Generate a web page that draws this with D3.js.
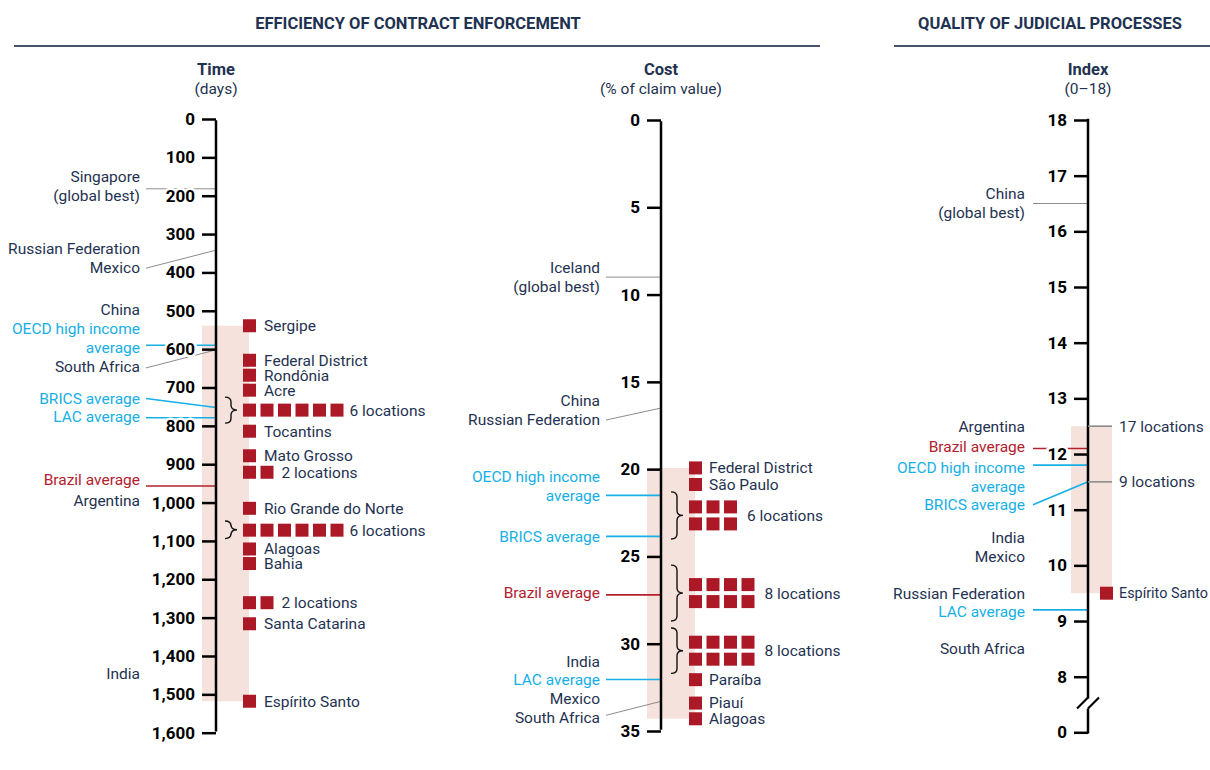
<!DOCTYPE html>
<html lang="en">
<head>
<meta charset="UTF-8">
<title>Enforcing contracts - Brazil</title>
<script src="https://d3js.org/d3.v7.min.js"></script>
<style>
  body { margin: 0; background: #fff; }
  svg text { font-family: Roboto, "Liberation Sans", sans-serif; }
</style>
</head>
<body>
<svg id="chart" width="1210" height="770"></svg>
<script>
// ---- data ----
// time (days)
var timeTicks = [0, 100, 200, 300, 400, 500, 600, 700, 800, 900, 1000, 1100, 1200, 1300, 1400, 1500, 1600];
var timeLocNames = ["Sergipe", "Federal District", "Rondônia", "Acre", "6 locations", "Tocantins", "Mato Grosso",
  "2 locations", "Rio Grande do Norte", "6 locations", "Alagoas", "Bahia", "2 locations", "Santa Catarina", "Espírito Santo"];
var timeLocValues = [539, 629, 668, 707, 759, 814, 878, 921, 1015, 1072, 1121, 1159, 1261, 1316, 1518];
var timeLocCounts = [1, 1, 1, 1, 6, 1, 1, 2, 1, 6, 1, 1, 2, 1, 1];
var timeGroupLow  = [null, null, null, null, 725, null, null, null, null, 1048, null, null, null, null, null];
var timeGroupHigh = [null, null, null, null, 793, null, null, null, null, 1094, null, null, null, null, null];
var timeBenchNames = [["Singapore", "(global best)"], ["Russian Federation", "Mexico"], ["China"],
  ["OECD high income", "average"], ["South Africa"], ["BRICS average"], ["LAC average"], ["Brazil average"], ["Argentina"], ["India"]];
var timeBenchValues = [182, 342, 496, 590, 602, 752, 779, 957, 995, 1445];
var timeBenchKinds = ["country", "country", "country", "avg", "country", "avg", "avg", "brazil", "country", "country"];

// cost (% of claim value)
var costTicks = [0, 5, 10, 15, 20, 25, 30, 35];
var costLocNames = ["Federal District", "São Paulo", "6 locations", "8 locations", "8 locations", "Paraíba", "Piauí", "Alagoas"];
var costLocValues = [19.93, 20.88, 22.65, 27.1, 30.4, 32.06, 33.4, 34.3];
var costLocCounts = [1, 1, 6, 8, 8, 1, 1, 1];
var costGroupLow  = [null, null, 21.3, 25.5, 29.1, null, null, null];
var costGroupHigh = [null, null, 24.0, 28.7, 31.7, null, null, null];
var costBenchNames = [["Iceland", "(global best)"], ["China", "Russian Federation"], ["OECD high income", "average"],
  ["BRICS average"], ["Brazil average"], ["India"], ["LAC average"], ["Mexico", "South Africa"]];
var costBenchValues = [9.0, 16.5, 21.5, 23.85, 27.2, 31.0, 32.05, 33.3];
var costBenchKinds = ["country", "country", "avg", "avg", "brazil", "country", "avg", "country"];

// quality of judicial processes index (0-18)
var indexTicks = [0, 8, 9, 10, 11, 12, 13, 14, 15, 16, 17, 18];
var indexLocNames = ["17 locations", "9 locations", "Espírito Santo"];
var indexLocValues = [12.5, 11.5, 9.5];
var indexLocCounts = [17, 9, 1];
var indexBenchNames = [["China", "(global best)"], ["Argentina"], ["Brazil average"], ["OECD high income", "average"],
  ["BRICS average"], ["India"], ["Mexico"], ["Russian Federation"], ["LAC average"], ["South Africa"]];
var indexBenchValues = [16.5, 12.5, 12.1, 11.8, 11.5, 10.5, 10.15, 9.5, 9.2, 8.5];
var indexBenchKinds = ["country", "country", "brazil", "avg", "avg", "country", "country", "country", "avg", "country"];

// ---- styles ----
var navy = "#1f3251", blue = "#17afe6", red = "#b3202e", squareRed = "#ab1926", bandFill = "#f6e2dc", grey = "#8c8c8c";
var kindColor = { country: navy, avg: blue, brazil: red };
var lineColor = { country: grey, avg: blue, brazil: red };
var labelSize = 15.5;

var svg = d3.select("#chart");

// section titles
function section(title, cx, x0, x1) {
  svg.append("text").attr("x", cx).attr("y", 29).attr("text-anchor", "middle")
    .style("font-size", "16.5px").style("font-weight", "bold").attr("fill", navy).text(title);
  svg.append("line").attr("x1", x0).attr("x2", x1).attr("y1", 46).attr("y2", 46)
    .attr("stroke", "#45556b").attr("stroke-width", 2);
}
section("EFFICIENCY OF CONTRACT ENFORCEMENT", 418, 14, 820);
section("QUALITY OF JUDICIAL PROCESSES", 1050, 894, 1210);

function brace(g, x0, x1, top, bot) {
  var xm = (x0 + x1) / 2, mid = (top + bot) / 2, r = 5;
  g.append("path")
    .attr("d", "M" + x0 + "," + top + " Q" + xm + "," + top + " " + xm + "," + (top + r) +
      " L" + xm + "," + (mid - r) + " Q" + xm + "," + mid + " " + x1 + "," + mid +
      " Q" + xm + "," + mid + " " + xm + "," + (mid + r) + " L" + xm + "," + (bot - r) +
      " Q" + xm + "," + bot + " " + x0 + "," + bot)
    .attr("fill", "none").attr("stroke", "#111").attr("stroke-width", 1.4);
}

function drawPanel(p) {
  var y = p.scale;
  var g = svg.append("g");
  var ax = p.axisX;

  // header
  g.append("text").attr("x", ax).attr("y", 75).attr("text-anchor", "middle")
    .style("font-size", "16.5px").style("font-weight", "bold").attr("fill", navy).text(p.title);
  g.append("text").attr("x", ax).attr("y", 94).attr("text-anchor", "middle")
    .style("font-size", labelSize + "px").attr("fill", navy).text(p.sub);

  // shaded range of locations
  var ext = d3.extent(p.locValues).map(y);
  g.append("rect").attr("x", ax + p.bandL).attr("width", p.bandR - p.bandL)
    .attr("y", d3.min(ext)).attr("height", Math.abs(ext[1] - ext[0])).attr("fill", bandFill);

  // benchmark labels and leader lines
  p.benchNames.forEach(function (lines, i) {
    var vy = y(p.benchValues[i]);
    var lastY = vy + p.textDy[i];
    var kind = p.benchKinds[i];
    lines.forEach(function (s, j) {
      g.append("text").attr("x", p.labelX).attr("y", lastY - (lines.length - 1 - j) * 19)
        .attr("dy", "0.35em").attr("text-anchor", "end")
        .style("font-size", labelSize + "px").attr("fill", kindColor[kind]).text(s);
    });
    if (p.lineDy[i] !== null) {
      g.append("line").attr("x1", p.labelX + p.lineGap).attr("y1", vy + p.lineDy[i])
        .attr("x2", ax).attr("y2", vy)
        .attr("stroke", lineColor[kind]).attr("stroke-width", kind === "country" ? 1 : 1.6);
    }
  });

  // axis
  var axis = d3.axisLeft(y).tickValues(p.ticks).tickSize(14).tickSizeOuter(0).tickPadding(7).tickFormat(p.fmt);
  var ag = g.append("g").attr("transform", "translate(" + ax + ",0)").call(axis);
  ag.select(".domain").remove();
  ag.selectAll(".tick line").attr("stroke", "#000").attr("stroke-width", 2.5);
  ag.selectAll(".tick text").attr("fill", "#000").style("font-size", "17px").style("font-weight", "bold")
    .style("font-family", "Roboto, sans-serif")
    .attr("stroke", "#fff").attr("stroke-width", 5).attr("paint-order", "stroke");
  var yTop = y(p.ticks[p.ticks.length - 1]), yBot = y(p.ticks[0]);
  if (p.breakAfter) {
    var by = (y(p.breakAfter) + yBot) / 2;
    [[Math.min(yTop, yBot) - 1.2, by - 6], [by + 4, Math.max(yTop, yBot) + 1.2]].forEach(function (s) {
      g.append("line").attr("x1", ax).attr("x2", ax).attr("y1", s[0]).attr("y2", s[1])
        .attr("stroke", "#000").attr("stroke-width", 2.5);
    });
    [[-11, 0], [0, 11]].forEach(function (o) {
      g.append("line").attr("x1", ax + o[0]).attr("y1", by + 4).attr("x2", ax + o[1]).attr("y2", by - 7)
        .attr("stroke", "#000").attr("stroke-width", 2.2);
    });
  } else {
    g.append("line").attr("x1", ax).attr("x2", ax).attr("y1", yTop - 1.2).attr("y2", yBot + 1.2)
      .attr("stroke", "#000").attr("stroke-width", 2.5);
  }

  // locations
  var size = 13, step = 17.5;
  p.locNames.forEach(function (name, i) {
    var vy = y(p.locValues[i]);
    var n = p.locCounts[i];
    var lx;
    if (p.countAsLine && n > 1) {
      g.append("line").attr("x1", ax).attr("x2", ax + p.bandR).attr("y1", vy).attr("y2", vy)
        .attr("stroke", grey).attr("stroke-width", 1.6);
      lx = ax + p.bandR + 7;
    } else {
      var rows = n > 2 ? p.groupRows : 1;
      var cols = Math.ceil(n / rows);
      d3.range(n).forEach(function (k) {
        var r = Math.floor(k / cols), c = k % cols;
        g.append("rect").attr("x", ax + p.sqX + c * step)
          .attr("y", vy - size / 2 + (r - (rows - 1) / 2) * 17)
          .attr("width", size).attr("height", size).attr("fill", squareRed);
      });
      lx = ax + p.sqX + (cols - 1) * step + size + (n > 2 ? p.groupGap : p.singleGap);
    }
    var t = g.append("text").attr("x", lx).attr("y", vy).attr("dy", "0.35em")
      .style("font-size", labelSize + "px").attr("fill", navy).text(name);
    // shrink a label that would run past the right edge
    var w = t.node().getComputedTextLength();
    if (lx + w > 1208) t.style("font-size", (labelSize * (1208 - lx) / w).toFixed(2) + "px");
    if (p.groupLow && p.groupLow[i] !== null) {
      brace(g, ax + p.braceX, ax + p.braceX + 12, y(p.groupLow[i]), y(p.groupHigh[i]));
    }
  });
}

drawPanel({
  scale: d3.scaleLinear().domain([0, 1600]).range([119, 732.7]),
  axisX: 216, ticks: timeTicks, fmt: d3.format(","), title: "Time", sub: "(days)",
  bandL: -14, bandR: 33, sqX: 27, groupRows: 1, groupGap: 6, singleGap: 8, braceX: 9,
  locNames: timeLocNames, locValues: timeLocValues, locCounts: timeLocCounts,
  groupLow: timeGroupLow, groupHigh: timeGroupHigh,
  benchNames: timeBenchNames, benchValues: timeBenchValues, benchKinds: timeBenchKinds,
  labelX: 140, lineGap: 6,
  textDy: [7, 17, 0, 2, 17, -9, -1, -6, 0, 0],
  lineDy: [0, 18, null, 0, 18, -9, 0, 0, null, null]
});

drawPanel({
  scale: d3.scaleLinear().domain([0, 35]).range([120, 731]),
  axisX: 661, ticks: costTicks, fmt: d3.format("d"), title: "Cost", sub: "(% of claim value)",
  bandL: -14, bandR: 34, sqX: 28, groupRows: 2, groupGap: 10, singleGap: 7, braceX: 10,
  locNames: costLocNames, locValues: costLocValues, locCounts: costLocCounts,
  groupLow: costGroupLow, groupHigh: costGroupHigh,
  benchNames: costBenchNames, benchValues: costBenchValues, benchKinds: costBenchKinds,
  labelX: 600, lineGap: 6,
  textDy: [9, 12, 0, 0, -2, 0, 0, 16],
  lineDy: [0, 12, 0, 0, 0, null, 0, 14]
});

drawPanel({
  scale: d3.scaleLinear().domain([0, 8, 18]).range([732.3, 676.7, 120]),
  axisX: 1088, ticks: indexTicks, fmt: d3.format("d"), title: "Index", sub: "(0–18)",
  bandL: -17, bandR: 24, sqX: 12, groupRows: 1, groupGap: 8, singleGap: 6, braceX: 0,
  countAsLine: true, breakAfter: 8,
  locNames: indexLocNames, locValues: indexLocValues, locCounts: indexLocCounts,
  groupLow: null, groupHigh: null,
  benchNames: indexBenchNames, benchValues: indexBenchValues, benchKinds: indexBenchKinds,
  labelX: 1025, lineGap: 8,
  textDy: [9, 0, -2, 21, 23, 0, 0, 0, 2, 0],
  lineDy: [0, null, 0, 0, 23, null, null, null, 0, null]
});
</script>
</body>
</html>
